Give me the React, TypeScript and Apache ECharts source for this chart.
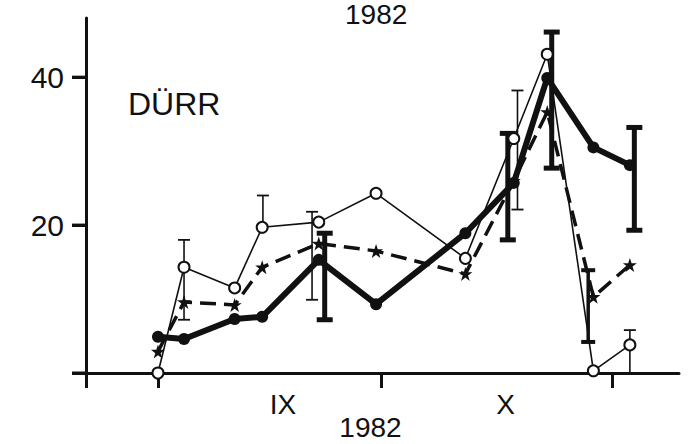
import React, { useEffect, useRef } from "react";
import * as echarts from "echarts";

// x in days from 1 September 1982
const days = [0, 3.5, 10.3, 14.0, 21.6, 29.3, 41.3, 47.8, 52.3, 58.5, 63.4];
const openValues = [0, 14.3, 11.5, 19.7, 20.4, 24.3, 15.5, 31.7, 43.1, 0.3, 3.8];
const filledValues = [4.9, 4.6, 7.3, 7.6, 15.3, 9.3, 18.9, 25.7, 39.9, 30.5, 28.1];
const starValues = [2.9, 9.6, 9.2, 14.3, 17.5, 16.5, 13.4, 26.0, 35.3, 10.3, 14.6];

// error bars: [day, low, high, drawLowCap]
const thinBars = [
  [3.5, 7.2, 18.0, 1],
  [14.1, 19.7, 24.0, 0],
  [20.7, 9.9, 21.8, 1],
  [48.3, 22.1, 38.2, 1],
  [63.4, 0, 5.8, 0],
];
const thickBars = [
  [22.4, 7.2, 18.9, 1],
  [47.0, 18.0, 32.4, 1],
  [52.9, 27.7, 46.1, 1],
  [64.0, 19.3, 33.2, 1],
];
const mediumBars = [[57.8, 4.2, 13.9, 1]];

const xMin = -9.67;
const xMax = 70;
const monthTicks = [xMin, 0, 30, 61];
const monthLabelValues = [16.8, 46.7];
const monthLabelTexts = ["IX", "X"];
const yInterval = 20;
const yMax = 48;
const yTickValues = [0, 20, 40];
const yearText = "1982";
const siteText = "DÜRR";

const INK = "#111";
const FONT = "Liberation Sans, Arial, sans-serif";
const STAR = "path://M12,0 L14.9,8.6 L24,8.6 L16.6,14 L19.4,22.8 L12,17.4 L4.6,22.8 L7.4,14 L0,8.6 L9.1,8.6 Z";

const GRID = { left: 86, right: 9, top: 18, bottom: 71 };
const Y_TICK_LEN = 14;

const zip = (xs: number[], ys: number[]) => xs.map((x, i) => [x, ys[i]]);

function errorBars(data: number[][], lineWidth: number, capWidth: number, capThick: number) {
  return {
    type: "custom",
    data,
    encode: { x: 0, y: [1, 2] },
    z: 2,
    silent: true,
    renderItem: (params: any, api: any) => {
      const x = api.value(0);
      const lo = api.value(1);
      const hi = api.value(2);
      const lowCap = api.value(3);
      const pLo = api.coord([x, lo]);
      const pHi = api.coord([x, hi]);
      const children: any[] = [
        {
          type: "line",
          shape: { x1: pLo[0], y1: pLo[1], x2: pHi[0], y2: pHi[1] },
          style: { stroke: INK, lineWidth },
        },
        {
          type: "line",
          shape: { x1: pHi[0] - capWidth / 2, y1: pHi[1], x2: pHi[0] + capWidth / 2, y2: pHi[1] },
          style: { stroke: INK, lineWidth: capThick },
        },
      ];
      if (lowCap) {
        children.push({
          type: "line",
          shape: { x1: pLo[0] - capWidth / 2, y1: pLo[1], x2: pLo[0] + capWidth / 2, y2: pLo[1] },
          style: { stroke: INK, lineWidth: capThick },
        });
      }
      return { type: "group", children };
    },
  };
}

// y-axis ticks drawn outward from the y-axis, placed by the axis scale
function yAxisTicks() {
  return {
    type: "custom",
    data: yTickValues.map((v) => [xMin, v]),
    encode: { x: 0, y: 1 },
    clip: false,
    silent: true,
    z: 6,
    renderItem: (params: any, api: any) => {
      const p = api.coord([api.value(0), api.value(1)]);
      return {
        type: "line",
        shape: { x1: p[0] - Y_TICK_LEN, y1: p[1], x2: p[0], y2: p[1] },
        style: { stroke: INK, lineWidth: 3 },
      };
    },
  };
}

export default function App() {
  const ref = useRef<HTMLDivElement>(null);
  useEffect(() => {
    document.body.style.margin = "0";
    const chart = echarts.init(ref.current!, null, { renderer: "svg" });
    chart.setOption({
      animation: false,
      backgroundColor: "#fff",
      title: {
        text: yearText,
        left: 345,
        top: 0,
        padding: 0,
        textStyle: { fontFamily: FONT, fontSize: 28, fontWeight: "normal", color: INK },
      },
      graphic: [
        {
          type: "text",
          left: 128,
          top: 88,
          style: { text: siteText, fontFamily: FONT, fontSize: 32, fill: INK },
        },
      ],
      grid: { ...GRID, containLabel: false, outerBoundsMode: "none" },
      xAxis: {
        type: "value",
        min: xMin,
        max: xMax,
        axisLine: { show: true, onZero: false, lineStyle: { color: INK, width: 3 } },
        axisTick: { show: true, customValues: monthTicks, length: 15, lineStyle: { color: INK, width: 3 } },
        axisLabel: {
          customValues: monthLabelValues,
          formatter: (v: number) => {
            const i = monthLabelValues.findIndex((m) => Math.abs(m - v) < 0.01);
            return i >= 0 ? monthLabelTexts[i] : "";
          },
          margin: 17,
          fontSize: 28,
          fontFamily: FONT,
          color: INK,
        },
        splitLine: { show: false },
        name: yearText,
        nameLocation: "middle",
        nameGap: 40,
        nameMoveOverlap: false,
        nameTextStyle: { fontFamily: FONT, fontSize: 28, color: INK, padding: [0, 24, 0, 0] },
      },
      yAxis: {
        type: "value",
        min: 0,
        max: yMax,
        interval: yInterval,
        axisLine: { show: true, onZero: false, lineStyle: { color: INK, width: 3 } },
        axisTick: { show: true, length: Y_TICK_LEN, lineStyle: { color: INK, width: 3 } },
        axisLabel: {
          margin: 22,
          fontSize: 30,
          fontFamily: FONT,
          color: INK,
          showMaxLabel: false,
          formatter: (v: number) => (v === 0 ? "" : String(v)),
        },
        splitLine: { show: false },
      },
      series: [
        errorBars(thinBars, 1.6, 12, 1.8),
        errorBars(thickBars, 5, 16, 5),
        errorBars(mediumBars, 3.5, 14, 4),
        yAxisTicks(),
        {
          type: "line",
          data: zip(days, starValues),
          symbol: STAR,
          symbolSize: 14,
          z: 3,
          lineStyle: { color: INK, width: 3.5, type: [16, 8] },
          itemStyle: { color: INK },
        },
        {
          type: "line",
          data: zip(days, filledValues),
          symbol: "circle",
          symbolSize: 12,
          z: 4,
          lineStyle: { color: INK, width: 6 },
          itemStyle: { color: INK },
        },
        {
          type: "line",
          data: zip(days, openValues),
          symbol: "emptyCircle",
          symbolSize: 11,
          z: 5,
          lineStyle: { color: INK, width: 1.6 },
          itemStyle: { color: INK, borderWidth: 1.8 },
        },
      ],
    });
    return () => chart.dispose();
  }, []);
  return <div ref={ref} style={{ width: 688, height: 444 }} />;
}
